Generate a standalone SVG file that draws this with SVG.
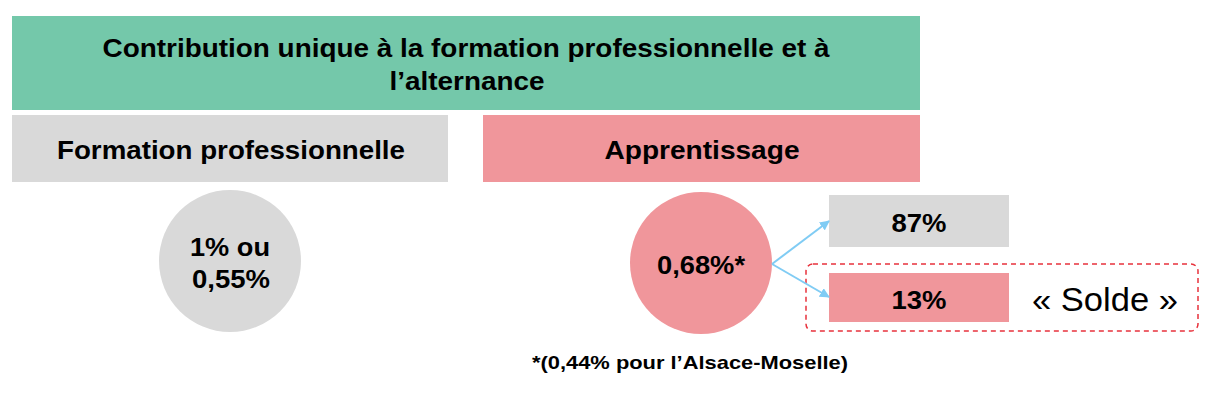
<svg xmlns="http://www.w3.org/2000/svg" width="1228" height="408" viewBox="0 0 1228 408">
<style>
  .t{font-family:"Liberation Sans",Arial,sans-serif;font-weight:bold;fill:#000;text-anchor:middle}
  .green{fill:#74C8AA}
  .gray{fill:#D9D9D9}
  .pink{fill:#F0969B}
  .conn{stroke:#80CCF4;stroke-width:2;fill:none;marker-end:url(#ah)}
</style>
<defs>
  <marker id="ah" markerWidth="10" markerHeight="10" refX="9" refY="5" orient="auto" markerUnits="userSpaceOnUse" viewBox="0 0 10 10">
    <path d="M0,0 L10,5 L0,10 Z" fill="#80CCF4"/>
  </marker>
</defs>
<rect width="1228" height="408" fill="#fff"/>
<g id="header">
  <rect class="green" x="12" y="16" width="908" height="94"/>
  <text class="t" x="466" y="57" font-size="26" textLength="727" lengthAdjust="spacingAndGlyphs">Contribution unique à la formation professionnelle et à</text>
  <text class="t" x="467" y="90" font-size="26" textLength="155" lengthAdjust="spacingAndGlyphs">l’alternance</text>
</g>
<g id="formation">
  <rect class="gray" x="12" y="115" width="436" height="67"/>
  <text class="t" x="231" y="159" font-size="26" textLength="348" lengthAdjust="spacingAndGlyphs">Formation professionnelle</text>
</g>
<g id="apprentissage">
  <rect class="pink" x="483" y="115" width="437" height="67"/>
  <text class="t" x="702" y="159" font-size="26" textLength="195" lengthAdjust="spacingAndGlyphs">Apprentissage</text>
</g>
<g id="circle-formation">
  <circle class="gray" cx="230" cy="261" r="71"/>
  <text class="t" x="230" y="256" font-size="25" textLength="80" lengthAdjust="spacingAndGlyphs">1% ou</text>
  <text class="t" x="231" y="288" font-size="25" textLength="78" lengthAdjust="spacingAndGlyphs">0,55%</text>
</g>
<g id="circle-apprentissage">
  <circle class="pink" cx="701" cy="263" r="71"/>
  <text class="t" x="701" y="274" font-size="26" textLength="88" lengthAdjust="spacingAndGlyphs">0,68%*</text>
</g>
<g id="box-87">
  <rect class="gray" x="829" y="195" width="180" height="52"/>
  <text class="t" x="919" y="232" font-size="25" textLength="55" lengthAdjust="spacingAndGlyphs">87%</text>
</g>
<g id="solde">
  <rect x="806" y="264" width="392" height="67" rx="7" fill="none" stroke="#E8323C" stroke-width="1.5" stroke-dasharray="5,4"/>
  <g id="box-13">
    <rect class="pink" x="829" y="273" width="180" height="49"/>
    <text class="t" x="919" y="309" font-size="25" textLength="55" lengthAdjust="spacingAndGlyphs">13%</text>
  </g>
  <text x="1105" y="311" font-size="33" text-anchor="middle" font-family="Liberation Sans,Arial,sans-serif" fill="#000" textLength="146" lengthAdjust="spacingAndGlyphs">« Solde »</text>
</g>
<g id="connectors">
  <path class="conn" d="M772,264 L829,221"/>
  <path class="conn" d="M772,264 L829,297"/>
</g>
<g id="footnote">
  <text class="t" x="690" y="369" font-size="19" textLength="316" lengthAdjust="spacingAndGlyphs">*(0,44% pour l’Alsace-Moselle)</text>
</g>
</svg>
